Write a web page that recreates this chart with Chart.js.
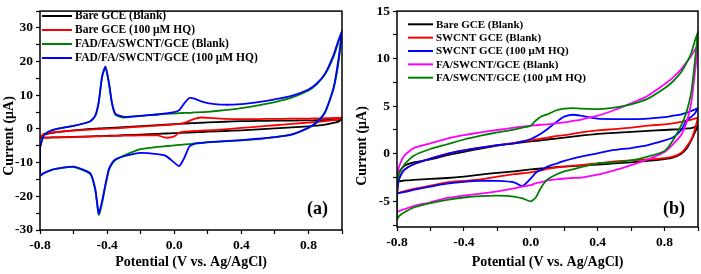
<!DOCTYPE html>
<html>
<head>
<meta charset="utf-8">
<script src="https://cdn.jsdelivr.net/npm/chart.js@4.4.1/dist/chart.umd.min.js"></script>
<style>
  html, body { margin:0; padding:0; background:#fff; }
  #wrap { position:relative; width:701px; height:274px; overflow:hidden; }
  #cvA { position:absolute; left:0; top:0; }
  #cvB { position:absolute; left:350px; top:0; }
</style>
</head>
<body>
<div id="wrap">
  <canvas id="cvA" width="350" height="274"></canvas>
  <canvas id="cvB" width="351" height="274"></canvas>
</div>
<script>
/* panel (a) - potential grid (V) and currents (uA), forward = anodic scan, reverse = cathodic scan */
const A_POT = [-0.8,-0.78,-0.75,-0.7,-0.6,-0.5,-0.47,-0.45,-0.43,-0.41,-0.39,-0.37,-0.35,-0.3,-0.2,-0.1,-0.05,0,0.03,0.06,0.09,0.12,0.16,0.2,0.3,0.4,0.5,0.6,0.7,0.8,0.85,0.9,0.95,0.98,1.0];

const A_BARE_BLANK_FWD = [-2.5,-1.8,-1.4,-0.9,-0.4,0,0.1,0.15,0.2,0.25,0.3,0.35,0.4,0.55,0.85,1.15,1.3,1.45,1.5,1.6,1.7,1.75,1.85,1.95,2.15,2.3,2.4,2.45,2.5,2.55,2.6,2.65,2.7,2.8,2.9];
const A_BARE_BLANK_REV = [-2.6,-2.6,-2.55,-2.5,-2.35,-2.2,-2.15,-2.1,-2.1,-2.05,-2,-2,-1.95,-1.85,-1.65,-1.45,-1.35,-1.25,-1.2,-1.1,-1.05,-1,-0.9,-0.8,-0.6,-0.4,-0.1,0.2,0.5,0.8,1,1.3,1.8,2.2,2.9];
const A_BARE_HQ_FWD = [-2.6,-1.5,-1.2,-0.9,-0.5,-0.2,-0.1,-0.05,0,0.05,0.1,0.15,0.2,0.35,0.7,1,1.15,1.35,1.5,1.8,2.4,3,3.4,3.3,3,2.95,2.95,3,3.05,3.1,3.15,3.2,3.25,3.3,3.4];
const A_BARE_HQ_REV = [-2.6,-2.6,-2.55,-2.5,-2.4,-2.25,-2.2,-2.2,-2.15,-2.15,-2.1,-2.1,-2.05,-2,-1.9,-1.9,-2.6,-2.2,-1.1,-0.8,-0.7,-0.6,-0.5,-0.4,-0.1,0.3,0.7,1.1,1.5,1.9,2.1,2.3,2.6,2.9,3.4];
const A_FAD_BLANK_FWD = [-5.5,-2.2,-0.8,0,0.9,2.3,4,7.8,15.5,18.3,13.8,7.3,4.2,3.4,3.9,4.3,4.5,4.6,4.7,4.75,4.8,4.9,5,5.1,5.6,6.2,7,8,9.3,11.4,13.3,16.3,21.5,26,29];
const A_FAD_BLANK_REV = [-13.8,-13.2,-12.5,-11.8,-11.3,-13.4,-18.3,-25.5,-22,-16.8,-12.3,-10.3,-9.2,-7.9,-6,-5.3,-5.1,-4.9,-4.7,-4.6,-4.5,-4.3,-4.2,-4,-3.7,-3.4,-3,-2.4,-1.6,0.3,2,5.2,12,20,29];
const A_FAD_HQ_FWD = [-5.5,-2.2,-0.8,0,0.9,2.3,4,8,15.5,18.5,14,7.5,4.5,3.6,3.9,4.3,4.6,5,5.6,7.6,9.2,9,8.2,7.7,7.2,7.4,8,8.8,9.8,11.7,13.5,16.5,22,26.5,29];
const A_FAD_HQ_REV = [-13.8,-13.2,-12.5,-11.8,-11.2,-13.2,-18,-25,-21.5,-16.5,-12,-10,-9,-8.1,-7.1,-7.5,-8,-10,-11,-8.6,-5.2,-4.4,-4.1,-3.9,-3.6,-3.3,-2.9,-2.4,-1.7,0.4,2,5,12.3,21,29];

const A_LABELS = ['Bare GCE (Blank)', 'Bare GCE (100 \u03bcM HQ)', 'FAD/FA/SWCNT/GCE (Blank)', 'FAD/FA/SWCNT/GCE (100 \u03bcM HQ)'];
const A_COLORS = ['#000000', '#ff0000', '#008000', '#0000ff'];

/* panel (b) */
const B_POT = [-0.8,-0.79,-0.77,-0.75,-0.7,-0.6,-0.5,-0.4,-0.3,-0.2,-0.1,-0.05,0,0.03,0.06,0.1,0.15,0.2,0.25,0.3,0.4,0.5,0.6,0.7,0.8,0.85,0.9,0.93,0.96,0.98,1.0];

const B_BARE_BLANK_FWD = [-2.9,-2,-1.5,-1.2,-0.9,-0.6,-0.15,0.2,0.55,0.85,1.1,1.2,1.3,1.35,1.4,1.5,1.6,1.7,1.8,1.9,2.1,2.2,2.3,2.4,2.5,2.55,2.6,2.65,2.7,2.8,2.9];
const B_BARE_BLANK_REV = [-2.9,-2.9,-2.85,-2.8,-2.75,-2.65,-2.55,-2.4,-2.2,-2,-1.85,-1.75,-1.65,-1.6,-1.55,-1.5,-1.4,-1.35,-1.3,-1.25,-1.15,-1,-0.9,-0.75,-0.55,-0.4,0,0.5,1.4,2.2,2.9];
const B_SWCNT_BLANK_FWD = [-4.2,-2.8,-2,-1.6,-1.1,-0.5,0,0.35,0.65,0.9,1.15,1.3,1.4,1.5,1.6,1.7,1.85,1.95,2.1,2.25,2.45,2.6,2.75,2.95,3.1,3.2,3.35,3.45,3.6,3.7,3.8];
const B_SWCNT_BLANK_REV = [-4.2,-4.1,-4,-3.9,-3.7,-3.35,-3,-2.85,-2.7,-2.4,-2.15,-2.05,-1.95,-1.85,-1.75,-1.6,-1.45,-1.35,-1.25,-1.2,-1,-0.8,-0.7,-0.6,-0.45,-0.3,0.1,0.7,1.5,2.5,3.8];
const B_SWCNT_HQ_FWD = [-4.2,-2.8,-2,-1.6,-1.1,-0.5,0,0.35,0.65,0.9,1.1,1.3,1.55,1.8,2.1,2.6,3.3,3.9,4.1,4,3.7,3.65,3.65,3.7,3.85,4,4.15,4.3,4.5,4.65,4.8];
const B_SWCNT_HQ_REV = [-4.2,-4.15,-4.05,-4,-3.8,-3.45,-3.15,-2.95,-2.85,-2.85,-3,-3.4,-2.6,-2,-1.7,-1.35,-1.05,-0.75,-0.5,-0.3,0.05,0.4,0.6,0.9,1.4,1.7,2.5,3.5,3.9,4.2,4.8];
const B_FA_BLANK_FWD = [-2.5,-1.5,-0.6,-0.1,0.6,1.1,1.6,1.95,2.25,2.5,2.75,2.85,2.95,3,3.05,3.1,3.2,3.3,3.45,3.6,4,4.6,5.3,6.1,7.3,8,8.9,9.6,10.3,10.9,11.4];
const B_FA_BLANK_REV = [-6.1,-6.05,-5.9,-5.8,-5.5,-5.1,-4.65,-4.4,-4.2,-3.95,-3.65,-3.45,-3.3,-3.1,-3,-2.8,-2.7,-2.6,-2.55,-2.5,-2.2,-1.75,-1.2,-0.6,0.2,1,2,3.2,5.4,8.3,11.4];
const B_FA_HQ_FWD = [-3,-2.2,-1.5,-1,-0.2,0.5,1,1.5,1.9,2.25,2.55,2.75,2.95,3.5,3.9,4.15,4.55,4.75,4.8,4.75,4.7,4.85,5.2,5.8,6.9,7.6,8.6,9.5,10.6,11.8,12.8];
const B_FA_HQ_REV = [-6.9,-6.6,-6.3,-6.1,-5.65,-5.2,-4.85,-4.6,-4.45,-4.4,-4.5,-4.7,-5,-4.6,-3.6,-2.7,-2.2,-1.85,-1.65,-1.4,-1,-0.9,-0.7,-0.3,0.3,1.4,3,4.3,6.5,9.5,12.8];

const B_LABELS = ['Bare GCE (Blank)', 'SWCNT GCE (Blank)', 'SWCNT GCE (100 \u03bcM HQ)', 'FA/SWCNT/GCE (Blank)', 'FA/SWCNT/GCE (100 \u03bcM HQ)'];
const B_COLORS = ['#000000', '#ff0000', '#0000ff', '#ff00ff', '#008000'];

/* ticks */
const X_TICK_VALUES = [-0.8,-0.6,-0.4,-0.2,0,0.2,0.4,0.6,0.8,1.0];
const X_TICK_LABELS = ['-0.8','','-0.4','','0.0','','0.4','','0.8',''];
const A_Y_TICK_VALUES = [-30,-25,-20,-15,-10,-5,0,5,10,15,20,25,30,35];
const A_Y_TICK_LABELS = ['-30','','-20','','-10','','0','','10','','20','','30',''];
const B_Y_TICK_VALUES = [-7.5,-5,-2.5,0,2.5,5,7.5,10,12.5,15];
const B_Y_TICK_LABELS = ['','-5','','0','','5','','10','','15'];

const FONT = '"Liberation Serif", "Times New Roman", serif';

/* fwd scan, then back along the reverse scan, closed at the start */
function loop(pot, fwd, rev){
  const pts = pot.map((v,i)=> ({x:v, y:fwd[i]}));
  for (let i = pot.length-1; i >= 0; i--) pts.push({x:pot[i], y:rev[i]});
  pts.push({x:pot[0], y:fwd[0]});
  return pts;
}

function decor(cfg){
  return {
    id: 'decor',
    afterDatasetsDraw(chart){
      const {ctx, chartArea:a} = chart;
      ctx.save();
      ctx.strokeStyle = '#000'; ctx.lineWidth = 1.5;
      ctx.strokeRect(a.left, a.top, a.right-a.left, a.bottom-a.top);
      ctx.restore();
    },
    afterDraw(chart){
      const ctx = chart.ctx;
      ctx.save();
      ctx.font = `bold ${cfg.legendSize}px ${FONT}`;
      ctx.textBaseline = 'middle'; ctx.textAlign = 'left';
      chart.data.datasets.forEach((ds,i)=>{
        const y = cfg.legendY + i*cfg.legendRow;
        ctx.strokeStyle = ds.borderColor; ctx.lineWidth = 2;
        ctx.beginPath(); ctx.moveTo(cfg.legendX, y); ctx.lineTo(cfg.legendX+cfg.legendLine, y); ctx.stroke();
        ctx.fillStyle = '#000';
        ctx.fillText(ds.label, cfg.legendX+cfg.legendLine+3, y+0.5);
      });
      ctx.font = `bold 18px ${FONT}`;
      ctx.fillText(cfg.tag, cfg.tagX, cfg.tagY);
      ctx.translate(cfg.yTitleX, cfg.yTitleY);
      ctx.rotate(-Math.PI/2);
      ctx.textAlign = 'center';
      ctx.font = `bold 14px ${FONT}`;
      ctx.fillText('Current (\u03bcA)', 0, 0);
      ctx.restore();
    }
  };
}

function makeChart(id, p){
  const n = p.series.length;
  const datasets = p.series.map((s,i)=> ({
    label: p.labels[i],
    data: loop(p.pot, s[0], s[1]),
    borderColor: p.colors[i],
    borderWidth: 1.8,
    showLine: true,
    pointRadius: 0,
    tension: 0.2,
    fill: false,
    order: n - i
  }));
  const tickFont = { family: FONT, size: 13.5, weight: 'bold' };
  return new Chart(document.getElementById(id), {
    type: 'scatter',
    data: { datasets },
    options: {
      responsive: false,
      animation: false,
      layout: { padding: { top: 6, right: p.padRight, left: 0, bottom: 0 } },
      plugins: { legend: { display: false }, tooltip: { enabled: false } },
      scales: {
        x: {
          type: 'linear', min: -0.8, max: 1.0,
          afterBuildTicks: s => { s.ticks = X_TICK_VALUES.map(v => ({value: v})); },
          afterFit: s => { s.height = p.xHeight; },
          ticks: { callback: (v,i) => X_TICK_LABELS[i], color: '#000', font: tickFont, maxRotation: 0, autoSkip: false, padding: 3 },
          grid: { drawOnChartArea: false, tickLength: 4, tickColor: '#000', tickWidth: 1.2 },
          border: { display: false },
          title: { display: true, text: 'Potential (V vs. Ag/AgCl)', color: '#000',
                   font: { family: FONT, size: 14, weight: 'bold' }, padding: { top: 0, bottom: 3 } }
        },
        y: {
          type: 'linear', min: p.yMin, max: p.yMax,
          afterBuildTicks: s => { s.ticks = p.yTicks.map(v => ({value: v})); },
          afterFit: s => { s.width = p.yWidth; },
          ticks: { callback: (v,i) => p.yLabels[i], color: '#000', font: tickFont, autoSkip: false, padding: 3 },
          grid: { drawOnChartArea: false, tickLength: 4, tickColor: '#000', tickWidth: 1.2 },
          border: { display: false }
        }
      }
    },
    plugins: [decor(p.decor)]
  });
}

makeChart('cvA', {
  pot: A_POT,
  series: [[A_BARE_BLANK_FWD, A_BARE_BLANK_REV], [A_BARE_HQ_FWD, A_BARE_HQ_REV],
           [A_FAD_BLANK_FWD, A_FAD_BLANK_REV], [A_FAD_HQ_FWD, A_FAD_HQ_REV]],
  labels: A_LABELS, colors: A_COLORS,
  yMin: -30, yMax: 35, yTicks: A_Y_TICK_VALUES, yLabels: A_Y_TICK_LABELS,
  padRight: 8, xHeight: 44, yWidth: 40,
  decor: { legendX: 42, legendY: 16, legendRow: 14, legendLine: 30, legendSize: 11.5,
           tag: '(a)', tagX: 307, tagY: 209, yTitleX: 9, yTitleY: 136 }
});

makeChart('cvB', {
  pot: B_POT,
  series: [[B_BARE_BLANK_FWD, B_BARE_BLANK_REV], [B_SWCNT_BLANK_FWD, B_SWCNT_BLANK_REV],
           [B_SWCNT_HQ_FWD, B_SWCNT_HQ_REV], [B_FA_BLANK_FWD, B_FA_BLANK_REV], [B_FA_HQ_FWD, B_FA_HQ_REV]],
  labels: B_LABELS, colors: B_COLORS,
  yMin: -7.7, yMax: 15, yTicks: B_Y_TICK_VALUES, yLabels: B_Y_TICK_LABELS,
  padRight: 2, xHeight: 47, yWidth: 47,
  decor: { legendX: 58, legendY: 24.3, legendRow: 13.35, legendLine: 25, legendSize: 11,
           tag: '(b)', tagX: 313, tagY: 209, yTitleX: 12, yTitleY: 146 }
});
</script>
</body>
</html>
